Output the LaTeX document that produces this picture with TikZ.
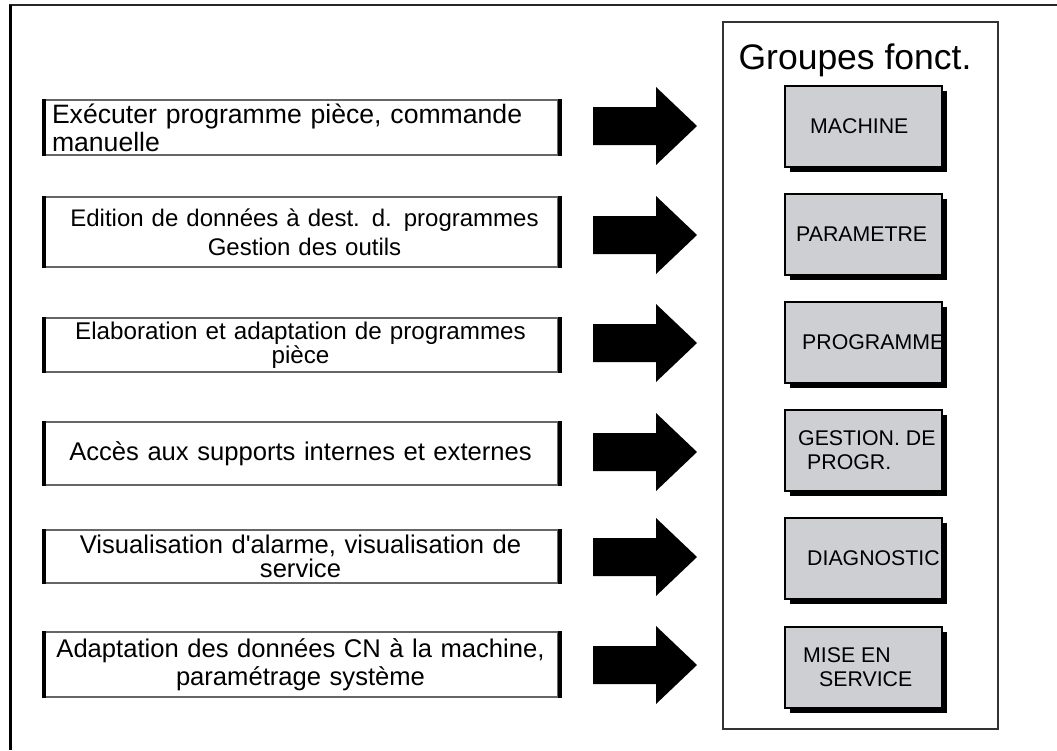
\documentclass[tikz,border=0pt]{standalone}
\usepackage{fontspec}
\setmainfont{Liberation Sans}[Ligatures=TeXOff]
\begin{document}
\begin{tikzpicture}[x=1pt,y=-1pt,
  task/.style={draw=black!60, line width=1.2pt, minimum width=515pt, inner sep=0pt,
    text width=497pt, font=\fontsize{25.6}{28}\selectfont},
  bar/.style={line width=4pt, black},
  group/.style={draw=black, line width=1.3pt, fill=boxgray, minimum width=157pt,
    minimum height=81pt, inner sep=0pt},
  grouptext/.style={anchor=west, inner sep=0pt, align=left,
    font=\fontsize{21.3}{24}\selectfont},
  shadow/.style={fill=black},
  blockarrow/.style={fill=black}
]
\definecolor{boxgray}{RGB}{206,207,211}
\useasboundingbox (0,0) rectangle (1057,750);

% outer frame: only the top and left rules are visible
\draw[black!85, line width=1.5pt] (9,5) -- (1057,5);
\draw[black, line width=3pt] (10,5) -- (10,750);

% task boxes on the left
\node[task, minimum height=55pt, align=left, font=\fontsize{26.6}{28}\selectfont] (t1) at (300.5,127.5)
  {Exécuter programme pièce, commande\\manuelle};
\node[task, minimum height=70pt, align=center, font=\fontsize{24}{29}\selectfont] (t2) at (300.5,232)
  {\hspace*{8pt}Edition de données à dest. d. programmes\\\hspace*{8pt}Gestion des outils};
\node[task, minimum height=54pt, align=center, font=\fontsize{24.2}{23.5}\selectfont] (t3) at (300.5,345)
  {Elaboration et adaptation de programmes\\pièce};
\node[task, minimum height=63pt, align=center] (t4) at (300.5,453.5)
  {Accès aux supports internes et externes};
\node[task, minimum height=53pt, align=center, font=\fontsize{25.6}{23.5}\selectfont] (t5) at (300.5,556.5)
  {Visualisation d'alarme, visualisation de\\service};
\node[task, minimum height=65pt, align=center] (t6) at (300.5,664.5)
  {Adaptation des données CN à la machine,\\paramétrage système};

\foreach \t in {t1,t2,t3,t4,t5,t6}{
  \draw[bar] ([xshift=2pt]\t.north west) -- ([xshift=2pt]\t.south west);
  \draw[bar] ([xshift=1pt]\t.north east) -- ([xshift=1pt]\t.south east);
}

% block arrows
\foreach \n/\y in {1/126,2/235,3/343,4/452,5/557,6/665}{
  \coordinate (a\n) at (593,\y);
  \fill[blockarrow] (a\n) ++(0,-19) -- ++(63,0) -- ++(0,-20) -- ++(41,39)
    -- ++(-41,39) -- ++(0,-20) -- ++(-63,0) -- cycle;
}

% function group panel
\node[draw=black!80, line width=1.5pt, minimum width=275pt, minimum height=707pt,
  inner sep=0pt] (panel) at (860.5,375.5) {};
\node[font=\fontsize{35.5}{40}\selectfont, anchor=base] (title) at (855,69) {Groupes fonct.};

\foreach \n/\y in {1/126.5,2/234.5,3/342.5,4/450.5,5/558.5,6/667.5}{
  \fill[shadow] (790,\y-35.5) rectangle (947,\y+45.5);
  \node[group] (g\n) at (863.5,\y) {};
}

\node[grouptext] (l1) at (g1.center -| 810,0) {MACHINE};
\node[grouptext] (l2) at (g2.center -| 796,0) {PARAMETRE};
\node[grouptext] (l3) at (g3.center -| 802,0) {PROGRAMME};
\node[grouptext] (l4) at (g4.center -| 798,0) {GESTION. DE\\\hspace*{9pt}PROGR.};
\node[grouptext] (l5) at (g5.center -| 807,0) {DIAGNOSTIC};
\node[grouptext] (l6) at (g6.center -| 803,0) {MISE EN\\\hspace*{16pt}SERVICE};
\end{tikzpicture}
\end{document}
